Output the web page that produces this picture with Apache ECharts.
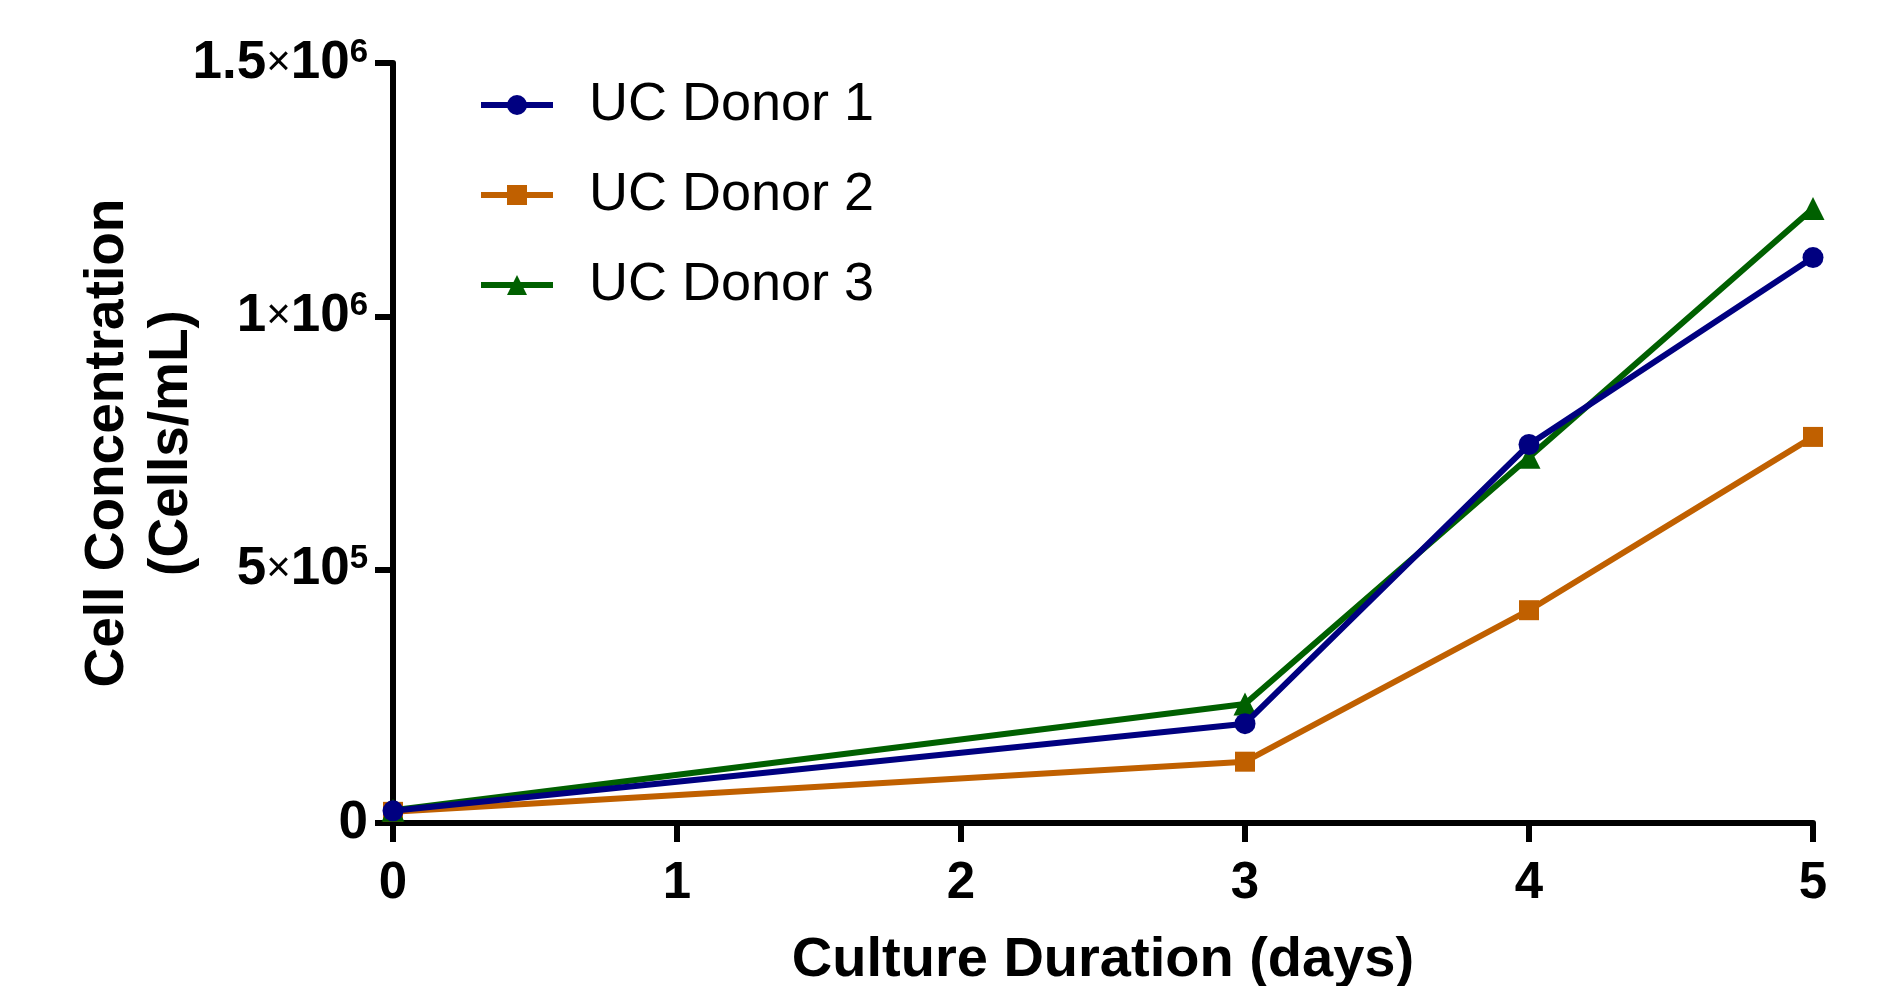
<!DOCTYPE html>
<html>
<head>
<meta charset="utf-8">
<script src="https://cdn.jsdelivr.net/npm/echarts@6/dist/echarts.min.js"></script>
<style>
html,body{margin:0;padding:0;background:#fff;}
#chart{width:1880px;height:986px;}
</style>
</head>
<body>
<div id="chart"></div>
<script>
// ---- data ----
var days = [0, 3, 4, 5];
var seriesNames = ['UC Donor 1', 'UC Donor 2', 'UC Donor 3'];
var donor1 = [24000, 196000, 747000, 1116000];
var donor2 = [22000, 121000, 420000, 762000];
var donor3 = [25000, 235000, 722000, 1213000];
var xTicks = [0, 1, 2, 3, 4, 5];
var yTickValues = [0, 500000, 1000000, 1500000];
var yTickMantissa = ['0', '5', '1', '1.5'];
var yTickExponent = ['', '5', '6', '6'];
var xAxisTitle = 'Culture Duration (days)';
var yAxisTitle = 'Cell Concentration\n(Cells/mL)';

var colors = ['#000080', '#C06000', '#006000'];
var symbols = ['circle', 'rect', 'triangle'];
var symbolSizes = [21, 20, 23];
var zs = [4, 2, 3];
var FONT = "'Liberation Sans', Arial, Helvetica, sans-serif";

function pairs(vals) { return days.map(function (d, i) { return [d, vals[i]]; }); }
var allVals = [donor1, donor2, donor3];

var chart = echarts.init(document.getElementById('chart'), null, {renderer: 'canvas'});
var option = {
  backgroundColor: '#ffffff',
  animation: false,
  grid: {left: 393, right: 67, top: 63, bottom: 163, containLabel: false, outerBoundsMode: 'none'},
  legend: {
    left: 478, top: 75, padding: 0, orient: 'vertical',
    itemWidth: 72, itemHeight: 25, itemGap: 30,
    data: seriesNames,
    lineStyle: {width: 6},
    textStyle: {fontFamily: FONT, fontSize: 54, color: '#000', lineHeight: 60, padding: [0, 0, 0, 31]}
  },
  xAxis: {
    type: 'value', min: 0, max: 5, interval: 1,
    name: xAxisTitle, nameLocation: 'middle', nameGap: 110, nameMoveOverlap: false,
    nameTextStyle: {fontFamily: FONT, fontSize: 56, fontWeight: 'bold', color: '#000'},
    axisLine: {show: true, onZero: false, lineStyle: {color: '#000', width: 6}},
    axisTick: {show: true, length: 19, lineStyle: {color: '#000', width: 6}},
    axisLabel: {
      margin: 35, fontFamily: FONT, fontSize: 51, fontWeight: 'bold', color: '#000',
      formatter: function (v) { return xTicks.indexOf(v) >= 0 ? String(v) : ''; }
    },
    splitLine: {show: false}
  },
  yAxis: {
    type: 'value', min: 0, max: 1500000, interval: 500000,
    name: yAxisTitle, nameLocation: 'middle', nameGap: 189, nameMoveOverlap: false,
    nameTextStyle: {fontFamily: FONT, fontSize: 55, fontWeight: 'bold', color: '#000', lineHeight: 64},
    axisLine: {show: true, lineStyle: {color: '#000', width: 6}},
    axisTick: {show: true, length: 18, lineStyle: {color: '#000', width: 6}},
    axisLabel: {
      margin: 25, color: '#000',
      formatter: function (v) {
        var i = yTickValues.indexOf(v);
        if (i < 0) return '';
        if (!yTickExponent[i]) return '{b|' + yTickMantissa[i] + '}';
        return '{b|' + yTickMantissa[i] + '}{x|×}{b|10}{s|' + yTickExponent[i] + '}';
      },
      rich: {
        b: {fontFamily: FONT, fontSize: 53, fontWeight: 'bold', color: '#000', lineHeight: 54},
        x: {fontFamily: FONT, fontSize: 42, fontWeight: 'normal', color: '#000', lineHeight: 54},
        s: {fontFamily: FONT, fontSize: 33, fontWeight: 'bold', color: '#000', lineHeight: 38, verticalAlign: 'top'}
      }
    },
    splitLine: {show: false}
  },
  series: seriesNames.map(function (n, i) {
    return {
      name: n, type: 'line', data: pairs(allVals[i]), z: zs[i],
      symbol: symbols[i], symbolSize: symbolSizes[i], showSymbol: true,
      lineStyle: {color: colors[i], width: 6},
      itemStyle: {color: colors[i], borderWidth: 0},
      emphasis: {disabled: true}
    };
  })
};
chart.setOption(option);
</script>
</body>
</html>
